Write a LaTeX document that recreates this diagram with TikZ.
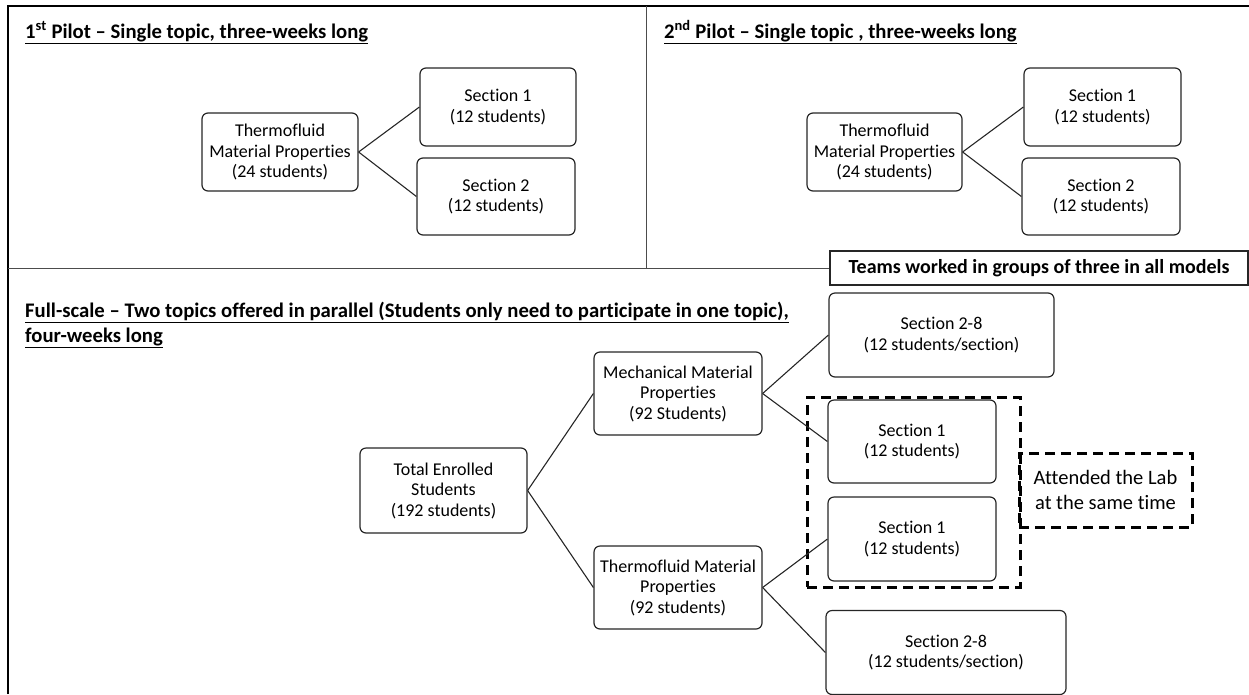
\documentclass[tikz,border=0pt]{standalone}
\usepackage{fontspec}
\setmainfont{Carlito}[Ligatures=CommonOff]
\begin{document}
\begin{tikzpicture}[x=1pt,y=-1pt,
  box/.style={draw=black!85, line width=1.2pt, rounded corners=6pt, align=center,
    inner sep=0pt, fill=white, font=\fontsize{18}{20.5}\selectfont},
  link/.style={draw=black!85, line width=1.1pt},
  dashbox/.style={draw=black, line width=3pt, dash pattern=on 10pt off 6pt},
  ttl/.style={anchor=base west, inner sep=0pt, align=left,
    font=\bfseries\fontsize{20.7}{24.5}\selectfont},
  divider/.style={draw=black!70, line width=1pt}]
\useasboundingbox (0,0) rectangle (1249,694);
\clip (0,0) rectangle (1249,694);

% frame and dividers
\draw[line width=2.5pt] (8,694) -- (8,6) -- (1249,6);
\draw[divider] (646,6) -- (646,268);

% titles
\node[ttl] (title1) at (25,38.5) {\underline{1\textsuperscript{st} Pilot – Single topic, three-weeks long}};
\node[ttl] (title2) at (664,38.5) {\underline{2\textsuperscript{nd} Pilot – Single topic , three-weeks long}};
\node[ttl] (title3) at (25,342) {\underline{Full-scale – Two topics offered in parallel (Students only need to participate in one topic),}\\\underline{four-weeks long}};

% teams note
\node[draw=black!85, line width=1.2pt, fill=white, minimum width=418pt, minimum height=34pt,
  inner sep=0pt, font=\bfseries\fontsize{20}{22}\selectfont] (teams) at (1039,268)
  {Teams worked in groups of three in all models};
\draw[divider] (8,268) -- (teams.west);

% 1st pilot
\node[box, minimum width=156pt, minimum height=78pt] (t1) at (280,152) {Thermofluid\\Material Properties\\(24 students)};
\node[box, minimum width=156pt, minimum height=78pt] (s11) at (498,107) {Section 1\\(12 students)};
\node[box, minimum width=158pt, minimum height=77pt] (s12) at (496,196.5) {Section 2\\(12 students)};
\draw[link] (t1.east) -- (s11.west);
\draw[link] (t1.east) -- (s12.west);

% 2nd pilot
\node[box, minimum width=155pt, minimum height=78pt] (t2) at (884.5,152) {Thermofluid\\Material Properties\\(24 students)};
\node[box, minimum width=157pt, minimum height=78pt] (s21) at (1102.5,107) {Section 1\\(12 students)};
\node[box, minimum width=158pt, minimum height=77pt] (s22) at (1101,196.5) {Section 2\\(12 students)};
\draw[link] (t2.east) -- (s21.west);
\draw[link] (t2.east) -- (s22.west);

% full scale
\node[dashbox, minimum width=213pt, minimum height=190pt] (grp) at (913.5,492) {};
\node[dashbox, minimum width=173pt, minimum height=74pt, align=center, inner sep=0pt,
  font=\fontsize{20.5}{25}\selectfont] (att) at (1105.5,490) {Attended the Lab\\at the same time};

\node[box, minimum width=167pt, minimum height=85pt] (tot) at (443.5,490.5) {Total Enrolled\\Students\\(192 students)};
\node[box, minimum width=168pt, minimum height=83pt] (mech) at (678,393.5) {Mechanical Material\\Properties\\(92 Students)};
\node[box, minimum width=168pt, minimum height=83pt] (thermo) at (678,587.5) {Thermofluid Material\\Properties\\(92 students)};
\node[box, minimum width=225pt, minimum height=84pt] (s28a) at (941.5,335) {Section 2-8\\(12 students/section)};
\node[box, minimum width=168pt, minimum height=83pt] (s1m) at (912,441.5) {Section 1\\(12 students)};
\node[box, minimum width=168pt, minimum height=84pt] (s1t) at (912,539) {Section 1\\(12 students)};
\node[box, minimum width=240pt, minimum height=84pt] (s28b) at (946,652.5) {Section 2-8\\(12 students/section)};

\draw[link] (tot.east) -- (mech.west);
\draw[link] (tot.east) -- (thermo.west);
\draw[link] (mech.east) -- (s28a.west);
\draw[link] (mech.east) -- (s1m.west);
\draw[link] (thermo.east) -- (s1t.west);
\draw[link] (thermo.east) -- (s28b.west);
\end{tikzpicture}
\end{document}
